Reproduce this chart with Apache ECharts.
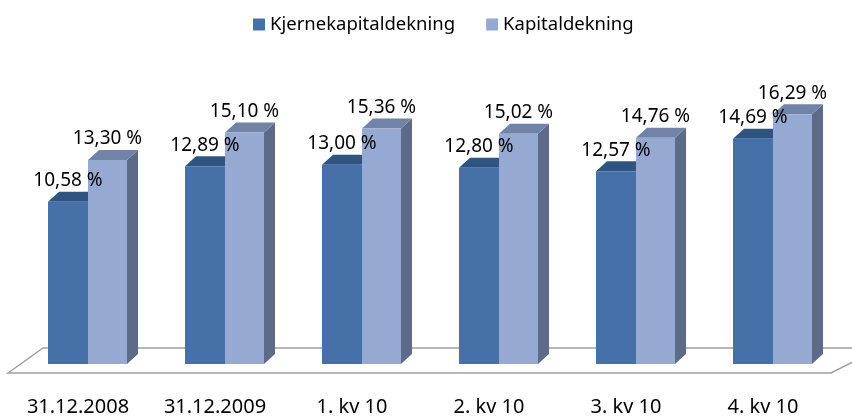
<!DOCTYPE html>
<html>
<head>
<meta charset="utf-8">
<script src="https://cdn.jsdelivr.net/npm/echarts@6/dist/echarts.min.js"></script>
<style>
  html, body { margin: 0; padding: 0; background: #fff; }
  #c_container { width: 852px; height: 417px; }
</style>
</head>
<body>
<div id="c_container"></div>
<script>
var categories = ["31.12.2008", "31.12.2009", "1. kv 10", "2. kv 10", "3. kv 10", "4. kv 10"];
var kjerne = [10.58, 12.89, 13.00, 12.80, 12.57, 14.69];
var kapital = [13.30, 15.10, 15.36, 15.02, 14.76, 16.29];
var seriesNames = ["Kjernekapitaldekning", "Kapitaldekning"];

var font_family = '"Noto Sans", "DejaVu Sans", sans-serif';
// front, top, side
var colorList = [
  ["#4571a8", "#2f5482", "#34507a"],
  ["#95a9d2", "#7183a6", "#5d6b89"]
];
var depth_x = 11, depth_y = -10;

function fmt(v) {
  return v.toFixed(2).replace(".", ",") + " %";
}

function makeRender(s) {
  return function (params, api) {
    var i = api.value(0);
    var v = api.value(1);
    var base = api.coord([i, 0]);
    var top = api.coord([i, v]);
    var c = base[0];
    var x0 = s == 0 ? c - 40 : c;
    var x1 = s == 0 ? c : c + 39;
    var ty = top[1], by = base[1];
    var col = colorList[s];
    return {
      type: "group",
      children: [
        {
          type: "polygon",
          shape: { points: [[x1, ty], [x1 + depth_x, ty + depth_y], [x1 + depth_x, by + depth_y], [x1, by]] },
          style: { fill: col[2] }
        },
        {
          type: "polygon",
          shape: { points: [[x0, ty], [x1, ty], [x1 + depth_x, ty + depth_y], [x0 + depth_x, ty + depth_y]] },
          style: { fill: col[1] }
        },
        {
          type: "rect",
          shape: { x: x0, y: ty, width: x1 - x0, height: by - ty },
          style: { fill: col[0] }
        },
        {
          type: "text",
          z2: 100,
          style: {
            text: fmt(v),
            x: (x0 + x1) / 2,
            y: ty - 21,
            align: "center",
            verticalAlign: "middle",
            fill: "#000",
            font: '19px ' + font_family
          }
        }
      ]
    };
  };
}

function toData(arr) {
  return arr.map(function (v, k) { return [k, v]; });
}

var myChart = echarts.init(document.getElementById("c_container"));
myChart.setOption({
  animation: false,
  grid: { left: 19.5, right: 10.5, top: 88, bottom: 52 },
  legend: {
    data: seriesNames,
    top: 10,
    left: 248,
    icon: "rect",
    itemWidth: 12,
    itemHeight: 12,
    itemGap: 31,
    textStyle: { color: "#000", fontSize: 18.5, fontFamily: font_family }
  },
  graphic: [
    {
      type: "polygon",
      z: -1,
      shape: { points: [[8, 373], [43, 348], [880, 348], [831, 373]] },
      style: { fill: "#fff", stroke: "#a0a0a0", lineWidth: 1.5 }
    }
  ],
  xAxis: {
    type: "category",
    data: categories,
    axisLine: { show: false },
    axisTick: { show: false },
    splitLine: { show: false },
    axisLabel: {
      interval: 0,
      margin: 33,
      color: "#000",
      fontSize: 20,
      fontFamily: font_family,
      padding: [0, 20, 0, 0]
    }
  },
  yAxis: {
    type: "value",
    min: 0,
    max: 18,
    show: false,
    splitLine: { show: false }
  },
  series: [
    {
      name: seriesNames[0],
      type: "custom",
      itemStyle: { color: colorList[0][0] },
      renderItem: makeRender(0),
      data: toData(kjerne)
    },
    {
      name: seriesNames[1],
      type: "custom",
      itemStyle: { color: colorList[1][0] },
      renderItem: makeRender(1),
      data: toData(kapital)
    }
  ]
});
</script>
</body>
</html>
